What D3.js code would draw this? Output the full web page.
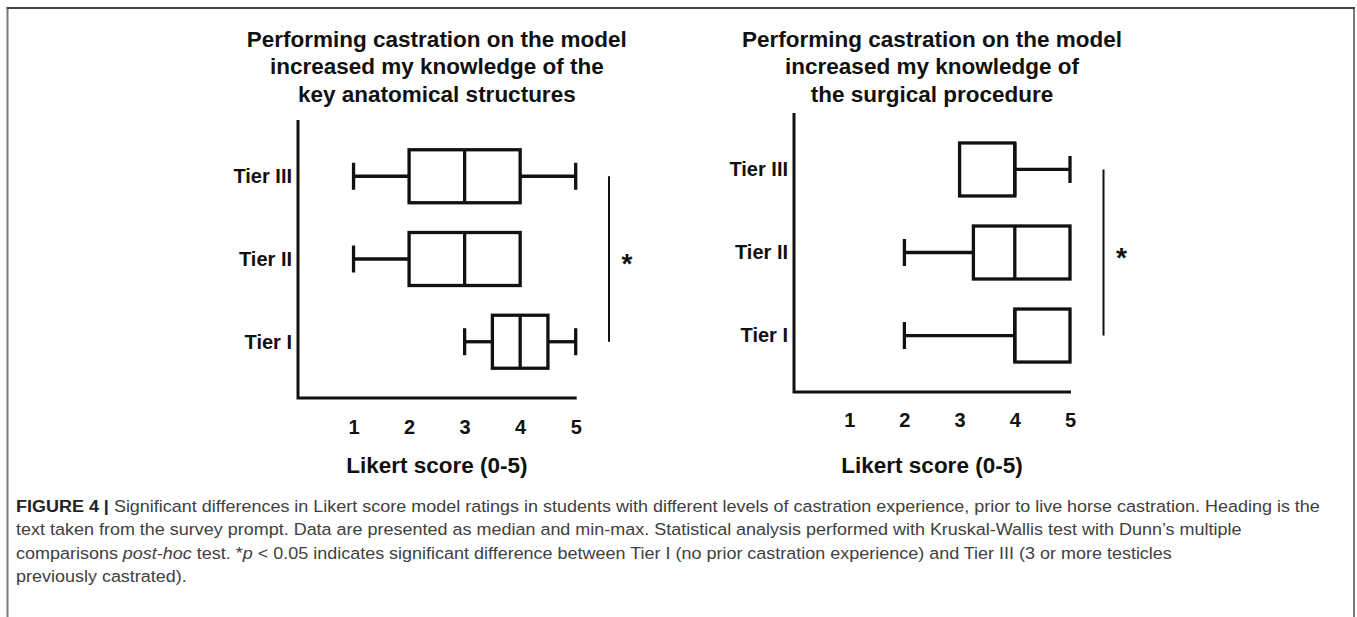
<!DOCTYPE html>
<html><head><meta charset="utf-8">
<script src="https://cdn.jsdelivr.net/npm/d3@7"></script>
<style>
html,body{margin:0;padding:0;background:#fff;}
svg{display:block;}
</style></head>
<body>
<svg id="chart" width="1357" height="617"></svg>
<script>
// ---------- DATA ----------
const tiers = ["Tier III", "Tier II", "Tier I"];
const ticks = [1, 2, 3, 4, 5];

const leftTitle = ["Performing castration on the model", "increased my knowledge of the", "key anatomical structures"];
const leftMin = [1, 1, 3];
const leftQ1  = [2, 2, 3.5];
const leftMed = [3, 3, 4];
const leftQ3  = [4, 4, 4.5];
const leftMax = [5, 4, 5];

const rightTitle = ["Performing castration on the model", "increased my knowledge of", "the surgical procedure"];
const rightMin = [3, 2, 2];
const rightQ1  = [3, 3.25, 4];
const rightMed = [4, 4, 4];
const rightQ3  = [4, 5, 5];
const rightMax = [5, 5, 5];

const axisTitle = "Likert score (0-5)";
const sigLabel = "*";
const sigPair = ["Tier III", "Tier I"];

// ---------- DRAW ----------
const svg = d3.select("#chart");
const BOLD = "'Liberation Sans', Arial, Helvetica, sans-serif";

// frame
svg.append("line").attr("x1", 7.5).attr("x2", 7.5).attr("y1", 8).attr("y2", 617).attr("stroke", "#7a7a7a").attr("stroke-width", 2);
svg.append("line").attr("x1", 1354).attr("x2", 1354).attr("y1", 8).attr("y2", 617).attr("stroke", "#7a7a7a").attr("stroke-width", 2);
svg.append("line").attr("x1", 6.5).attr("x2", 1355).attr("y1", 8).attr("y2", 8).attr("stroke", "#444").attr("stroke-width", 2);

function panel(cfg) {
  const g = svg.append("g");
  const x = d3.scaleLinear().domain([0, 5]).range([cfg.x0, cfg.x1]);
  const y = d3.scalePoint().domain(tiers).range([cfg.yTop, cfg.yBot]).padding(0.68);

  // title
  const cx = (cfg.x0 + cfg.x1) / 2;
  const t = g.append("text").attr("x", cx).attr("y", cfg.titleY)
    .attr("text-anchor", "middle").attr("font-family", BOLD).attr("font-weight", "bold")
    .attr("font-size", 22.5).attr("fill", "#111");
  cfg.title.forEach((s, i) => t.append("tspan").attr("x", cx).attr("dy", i ? 27.5 : 0).text(s));

  // axis lines
  g.append("path").attr("d", `M${cfg.x0},${cfg.yTop}V${cfg.yBot}H${x(5) + 1}`)
    .attr("fill", "none").attr("stroke", "#111").attr("stroke-width", 3);

  // y labels
  const yg = g.append("g").attr("transform", `translate(${cfg.x0},0)`)
    .call(d3.axisLeft(y).tickSize(0).tickPadding(6));
  yg.select(".domain").remove();
  yg.selectAll("text").attr("font-family", BOLD).attr("font-weight", "bold").attr("font-size", 20).attr("fill", "#111");

  // x tick labels
  const xg = g.append("g").attr("transform", `translate(0,${cfg.tickY})`)
    .call(d3.axisBottom(x).tickValues(ticks).tickSize(0).tickPadding(0).tickFormat(d3.format("d")));
  xg.select(".domain").remove();
  xg.selectAll("text").attr("font-family", BOLD).attr("font-weight", "bold").attr("font-size", 20)
    .attr("fill", "#111").attr("dy", "0.35em").attr("y", 0);

  // axis title
  g.append("text").attr("x", (cfg.x0 + x(5)) / 2).attr("y", cfg.axisTitleY).attr("text-anchor", "middle")
    .attr("font-family", BOLD).attr("font-weight", "bold").attr("font-size", 22.5).attr("fill", "#111")
    .attr("dy", "0.35em").text(axisTitle);

  // boxes
  const bh = 53, ch = 27, sw = 3.3;
  tiers.forEach((tier, i) => {
    const cy = y(tier);
    const bg = g.append("g").attr("stroke", "#111").attr("stroke-width", sw).attr("fill", "none");
    if (cfg.min[i] < cfg.q1[i]) {
      bg.append("line").attr("x1", x(cfg.min[i])).attr("x2", x(cfg.q1[i])).attr("y1", cy).attr("y2", cy);
      bg.append("line").attr("x1", x(cfg.min[i])).attr("x2", x(cfg.min[i])).attr("y1", cy - ch / 2).attr("y2", cy + ch / 2);
    }
    if (cfg.max[i] > cfg.q3[i]) {
      bg.append("line").attr("x1", x(cfg.q3[i])).attr("x2", x(cfg.max[i])).attr("y1", cy).attr("y2", cy);
      bg.append("line").attr("x1", x(cfg.max[i])).attr("x2", x(cfg.max[i])).attr("y1", cy - ch / 2).attr("y2", cy + ch / 2);
    }
    bg.append("rect").attr("x", x(cfg.q1[i])).attr("y", cy - bh / 2)
      .attr("width", x(cfg.q3[i]) - x(cfg.q1[i])).attr("height", bh).attr("fill", "#fff");
    bg.append("line").attr("x1", x(cfg.med[i])).attr("x2", x(cfg.med[i])).attr("y1", cy - bh / 2).attr("y2", cy + bh / 2);
  });

  // significance bracket
  g.append("line").attr("x1", cfg.sigX).attr("x2", cfg.sigX)
    .attr("y1", y(sigPair[0])).attr("y2", y(sigPair[1])).attr("stroke", "#111").attr("stroke-width", 2);
  g.append("text").attr("x", cfg.sigX + 18).attr("y", (y(sigPair[0]) + y(sigPair[1])) / 2 + 14)
    .attr("text-anchor", "middle").attr("font-family", BOLD).attr("font-weight", "bold")
    .attr("font-size", 28).attr("fill", "#111").text(sigLabel);
}

panel({ x0: 298, x1: 575.7, yTop: 120, yBot: 398, titleY: 46.5, tickY: 427, axisTitleY: 465, sigX: 609,
  title: leftTitle, min: leftMin, q1: leftQ1, med: leftMed, q3: leftQ3, max: leftMax });
panel({ x0: 794, x1: 1070, yTop: 113, yBot: 392, titleY: 46.5, tickY: 419.5, axisTitleY: 465, sigX: 1103.5,
  title: rightTitle, min: rightMin, q1: rightQ1, med: rightMed, q3: rightQ3, max: rightMax });

// ---------- CAPTION ----------
const capLines = [
  [["b", "FIGURE 4 | "], ["n", "Significant differences in Likert score model ratings in students with different levels of castration experience, prior to live horse castration. Heading is the"]],
  [["n", "text taken from the survey prompt. Data are presented as median and min-max. Statistical analysis performed with Kruskal-Wallis test with Dunn\u2019s multiple"]],
  [["n", "comparisons "], ["i", "post-hoc"], ["n", " test. *"], ["i", "p"], ["n", " < 0.05 indicates significant difference between Tier I (no prior castration experience) and Tier III (3 or more testicles"]],
  [["n", "previously castrated)."]]
];
const capY = [506, 529.5, 553, 576.5];
const CAP = "'Liberation Sans', Arial, sans-serif";
const cap = svg.append("g").attr("font-family", CAP).attr("fill", "#404040");
const capTexts = capLines.map((parts, i) => {
  const t = cap.append("text").attr("x", 0).attr("y", capY[i]).attr("dy", "0.35em").attr("font-size", 17);
  parts.forEach(([k, s]) => {
    const ts = t.append("tspan").text(s);
    if (k === "b") ts.attr("font-weight", "bold").attr("fill", "#222");
    if (k === "i") ts.attr("font-style", "italic");
  });
  return t;
});
// condense horizontally so that the first line spans its width in the figure
const w0 = capTexts[0].node().getComputedTextLength();
cap.attr("transform", `translate(16,0) scale(${1305 / w0},1)`);
</script>
</body></html>
